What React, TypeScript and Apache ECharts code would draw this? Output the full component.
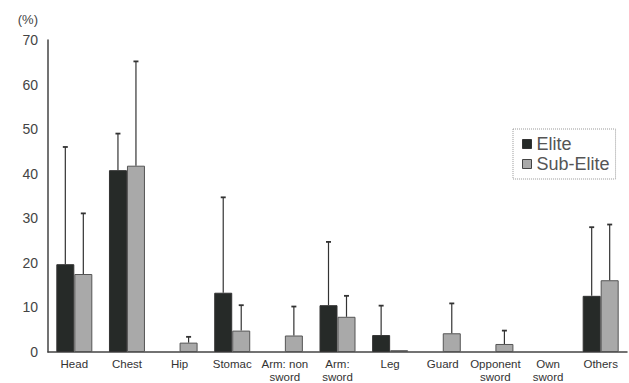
import React, { useEffect, useRef } from "react";
import * as echarts from "echarts";

const categories = [
  "Head",
  "Chest",
  "Hip",
  "Stomac",
  "Arm: non\nsword",
  "Arm:\nsword",
  "Leg",
  "Guard",
  "Opponent\nsword",
  "Own\nsword",
  "Others",
];

// mean percentages
const eliteMean = [19.7, 40.8, 0, 13.3, 0, 10.5, 3.8, 0, 0, 0, 12.6];
const subEliteMean = [17.5, 41.8, 2.1, 4.8, 3.7, 7.9, 0.4, 4.2, 1.8, 0, 16.1];
// upper end of the standard deviation bar (mean + SD)
const eliteUpper = [46, 49, null, 34.7, null, 24.7, 10.4, null, null, null, 28];
const subEliteUpper = [31.1, 65.2, 3.4, 10.5, 10.2, 12.6, null, 10.9, 4.8, null, 28.6];

const yTicks = [0, 10, 20, 30, 40, 50, 60, 70];

const BAR_W = 18;
const ELITE_COLOR = "#262a28";
const SUB_COLOR = "#a9a9a9";

// a zero mean draws no bar at all
const barData = (values: number[]) => values.map((v) => (v === 0 ? "-" : v));

function errorSeries(means: number[], uppers: (number | null)[], offset: number) {
  const data = means.map((m, i) => [i, m, uppers[i] === null ? NaN : uppers[i]]);
  return {
    type: "custom",
    silent: true,
    z: 5,
    data,
    renderItem: (params: any, api: any) => {
      const upper = api.value(2);
      if (upper === null || upper === undefined || isNaN(upper)) return null;
      const base = api.coord([api.value(0), api.value(1)]);
      const top = api.coord([api.value(0), upper]);
      const x = base[0] + offset;
      return {
        type: "group",
        children: [
          {
            type: "line",
            shape: { x1: x, y1: base[1], x2: x, y2: top[1] },
            style: { stroke: "#333", lineWidth: 1.2 },
          },
          {
            type: "line",
            shape: { x1: x - 2.5, y1: top[1], x2: x + 2.5, y2: top[1] },
            style: { stroke: "#333", lineWidth: 1.8 },
          },
        ],
      };
    },
  };
}

export default function App() {
  const ref = useRef<HTMLDivElement>(null);

  useEffect(() => {
    if (!ref.current) return;
    const chart = echarts.init(ref.current, undefined, { renderer: "svg" });
    chart.setOption({
      animation: false,
      backgroundColor: "#ffffff",
      textStyle: { fontFamily: "Liberation Sans, Arial, sans-serif" },
      grid: { left: 48, right: 2, top: 40, bottom: 31, containLabel: false },
      legend: {
        orient: "vertical",
        left: 513,
        top: 129,
        padding: [6, 6, 6, 9],
        itemGap: 2,
        itemWidth: 9,
        itemHeight: 9,
        icon: "rect",
        borderColor: "#999",
        borderWidth: 1,
        borderType: "dotted",
        textStyle: { fontSize: 18, color: "#555", padding: [0, 0, 0, 0] },
        data: [
          { name: "Elite", itemStyle: { borderColor: "#333", borderWidth: 1 } },
          { name: "Sub-Elite", itemStyle: { borderColor: "#444", borderWidth: 1 } },
        ],
      },
      xAxis: {
        type: "category",
        data: categories,
        boundaryGap: true,
        axisLine: { lineStyle: { color: "#444", width: 1.5 } },
        axisTick: { show: false },
        axisLabel: {
          interval: 0,
          color: "#333",
          fontSize: 11.5,
          lineHeight: 13,
          margin: 5,
          verticalAlign: "top",
        },
      },
      yAxis: {
        type: "value",
        min: 0,
        max: 70,
        interval: 10,
        name: "(%)",
        nameLocation: "end",
        nameGap: 14,
        nameTextStyle: { color: "#444", fontSize: 13, align: "right", padding: [0, 10, 0, 0] },
        axisLine: { show: true, lineStyle: { color: "#444", width: 1.5 } },
        axisTick: { show: false },
        splitLine: { show: false },
        axisLabel: {
          color: "#444",
          fontSize: 14,
          margin: 10,
          customValues: yTicks,
        },
      },
      series: [
        {
          name: "Elite",
          type: "bar",
          data: barData(eliteMean),
          barWidth: BAR_W,
          barGap: "0%",
          itemStyle: { color: ELITE_COLOR, borderColor: "#333", borderWidth: 1 },
        },
        {
          name: "Sub-Elite",
          type: "bar",
          data: barData(subEliteMean),
          barWidth: BAR_W,
          barGap: "0%",
          itemStyle: { color: SUB_COLOR, borderColor: "#555", borderWidth: 1 },
        },
        errorSeries(eliteMean, eliteUpper, -BAR_W / 2),
        errorSeries(subEliteMean, subEliteUpper, BAR_W / 2),
      ],
    });
    return () => chart.dispose();
  }, []);

  return (
    <div
      ref={ref}
      style={{ position: "absolute", left: 0, top: 0, width: 629, height: 383 }}
    />
  );
}
